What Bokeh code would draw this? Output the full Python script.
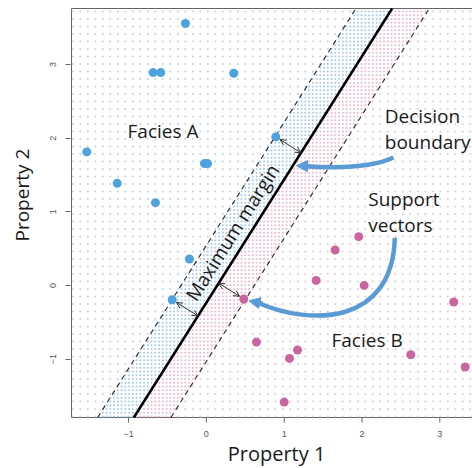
import numpy as np
from bokeh.plotting import figure
from bokeh.models import (Range1d, FixedTicker, Arrow, OpenHead, NormalHead,
                          Title, ColumnDataSource)
from bokeh.embed import file_html
from bokeh.resources import INLINE
from bokeh.core.properties import value

# ---------------- data ----------------
facies_a_x = [-0.269, -0.684, -0.586, 0.352, -1.537, -1.146, -0.654, -0.024, 0.015, 0.892, -0.217, -0.439]
facies_a_y = [3.557, 2.891, 2.891, 2.882, 1.814, 1.387, 1.125, 1.655, 1.655, 2.018, 0.360, -0.193]
facies_b_x = [1.958, 1.655, 1.411, 2.028, 0.481, 3.179, 0.644, 1.171, 1.068, 2.627, 3.326, 1.000]
facies_b_y = [0.663, 0.482, 0.069, 0.001, -0.183, -0.224, -0.768, -0.876, -0.990, -0.940, -1.107, -1.583]

boundary_slope = 1.673
boundary_intercept = -0.233
margin_upper_intercept = 0.545
margin_lower_intercept = -1.03

support_vectors_x = [0.892, -0.439, 0.481]
support_vectors_y = [2.018, -0.193, -0.183]

x_ticks = [-1, 0, 1, 2, 3]
y_ticks = [-1, 0, 1, 2, 3]

# ---------------- layout ----------------
W, H = 472, 468
PL, PT, PB = 71, 8, 417          # plot box edges in canvas pixels
X0, X1 = -1.733, 3.42            # data x at box left / right
YF, Y1 = -1.792, 3.761           # data y at box bottom / top
sx = (W - PL) / (X1 - X0)
sy = (PB - PT) / (Y1 - YF)
TXT_SHIFT = 7 / sy               # baseline correction for text glyphs

def dxp(cx):
    return X0 + (cx - PL) / sx

def dyp(cy):
    return Y1 - (cy - PT) / sy

BLUE = "#4da3de"
PINK = "#c9659f"
ARROW_BLUE = "#5b9bd5"
AXIS = "#666666"
FONT = "Open Sans"

p = figure(width=W, height=H, x_range=Range1d(dxp(PL - 1), X1), y_range=Range1d(dyp(H), dyp(PT - 1)),
           output_backend="svg", toolbar_location=None, title=None, x_axis_location=None,
           min_border_left=PL - 1, min_border_right=0, min_border_top=PT - 1, min_border_bottom=0)
p.grid.visible = False
p.outline_line_color = None
p.background_fill_color = "white"
p.border_fill_color = "white"

# y axis (ticks + labels only)
yax = p.yaxis[0]
yax.ticker = FixedTicker(ticks=y_ticks)
yax.major_label_overrides = {t: (("\u2212" + str(abs(t))) if t < 0 else str(t)) for t in y_ticks}
yax.axis_line_color = None
yax.major_tick_line_color = AXIS
yax.major_tick_out = 5
yax.major_tick_in = 0
yax.minor_tick_line_color = None
yax.major_label_text_font = "Liberation Sans"
yax.major_label_text_font_size = "9px"
yax.major_label_text_color = "#555555"
yax.major_label_standoff = 9
yax.major_label_orientation = "vertical"
yax.axis_label = "\u200b"
yax.axis_label_text_font_size = "2px"
yax.axis_label_standoff = 3
p.add_layout(Title(text="Property 2", align="left", offset=H - 241, text_font=FONT,
                   text_font_size="19px", text_font_style="normal", text_color="#1a1a1a"), "left")

# box (left, top, bottom)
p.segment(x0=[X0, X0, X0], y0=[YF, Y1, YF], x1=[X0, X1, X1], y1=[Y1, Y1, YF],
          line_color=AXIS, line_width=1)

# x axis ticks and labels drawn within the canvas
x_labels = [("\u2212" + str(abs(t))) if t < 0 else str(t) for t in x_ticks]
p.segment(x0=x_ticks, y0=[YF] * len(x_ticks), x1=x_ticks, y1=[dyp(PB + 5)] * len(x_ticks),
          line_color=AXIS, line_width=1)
p.text(x=x_ticks, y=[dyp(433)] * len(x_ticks), text=x_labels, text_font=value("Liberation Sans"),
       text_font_size="9px", text_color="#555555", text_align="center", text_baseline="middle")
p.text(x=[dxp(276)], y=[dyp(464) + 11.5 / sy], text=["Property 1"], text_font=value(FONT),
       text_font_size="20px", text_color="#1a1a1a", text_align="center", text_baseline="alphabetic")

# ---------------- background classification grid ----------------
def grid(step, ox, oy):
    gx = X0 + np.arange(ox, W - PL, step) / sx
    gy = Y1 - np.arange(oy, PB - PT, step) / sy
    xx, yy = np.meshgrid(gx, gy)
    return xx.ravel(), yy.ravel()

def split(xx, yy):
    r = yy - boundary_slope * xx
    inband = (r < margin_upper_intercept) & (r > margin_lower_intercept)
    blue = r > boundary_intercept
    return inband, blue

ox, oy = grid(7.5, 1.3, 3.0)
inb, bl = split(ox, oy)
m = ~inb
p.scatter(ox[m & bl], oy[m & bl], size=2.0, marker="circle", fill_color="#c0d1e2", line_color=None)
p.scatter(ox[m & ~bl], oy[m & ~bl], size=2.0, marker="circle", fill_color="#e0cad5", line_color=None)
gx_, gy_ = grid(3.75, 1.3, 3.0)
inb, bl = split(gx_, gy_)
p.scatter(gx_[inb & bl], gy_[inb & bl], size=2.0, marker="circle", fill_color="#a6c9e8", line_color=None)
p.scatter(gx_[inb & ~bl], gy_[inb & ~bl], size=2.0, marker="circle", fill_color="#ebb6cf", line_color=None)

# ---------------- boundary and margins (clipped to the box) ----------------
def line_x(y, b):
    return (y - b) / boundary_slope

for b, col, lw, dash in ((margin_upper_intercept, "#333333", 1.2, "5 4"),
                         (margin_lower_intercept, "#333333", 1.2, "5 4"),
                         (boundary_intercept, "black", 2.5, "solid")):
    p.line(x=[line_x(YF, b), line_x(Y1, b)], y=[YF, Y1], line_color=col, line_width=lw, line_dash=dash)

# ---------------- points ----------------
p.scatter(facies_a_x, facies_a_y, size=9, fill_color=BLUE, line_color=None)
p.scatter(facies_b_x, facies_b_y, size=9, fill_color=PINK, line_color=None)

# ---------------- margin arrows (perpendicular in screen space) ----------------
d = np.array([sx, boundary_slope * sy])
d = d / np.linalg.norm(d)
Q = np.array([(0 - X0) * sx, (boundary_intercept - YF) * sy])
for svx, svy in zip(support_vectors_x, support_vectors_y):
    P = np.array([(svx - X0) * sx, (svy - YF) * sy])
    foot = Q + np.dot(P - Q, d) * d
    u = (foot - P) / np.linalg.norm(foot - P)
    s = P + u * 5
    p.add_layout(Arrow(x_start=X0 + s[0] / sx, y_start=YF + s[1] / sy,
                       x_end=X0 + foot[0] / sx, y_end=YF + foot[1] / sy,
                       line_color="#333333", line_width=1,
                       start=OpenHead(size=6, line_color="#333333", line_width=1),
                       end=OpenHead(size=6, line_color="#333333", line_width=1)))

# ---------------- callout arrows ----------------
p.quadratic(x0=[2.405], y0=[1.738], x1=[1.235], y1=[1.623], cx=[2.045], cy=[1.561],
            line_color=ARROW_BLUE, line_width=4.5)
p.add_layout(Arrow(x_start=1.312, y_start=1.621, x_end=1.158, y_end=1.625,
                   line_color=ARROW_BLUE, line_width=4.5,
                   end=NormalHead(size=11, fill_color=ARROW_BLUE, line_color=ARROW_BLUE)))
p.bezier(x0=[2.422], y0=[0.648], x1=[0.670], y1=[-0.237],
         cx0=[2.392], cy0=[-0.543], cx1=[1.338], cy1=[-0.543],
         line_color=ARROW_BLUE, line_width=4.5)
p.add_layout(Arrow(x_start=0.723, y_start=-0.246, x_end=0.548, y_end=-0.207,
                   line_color=ARROW_BLUE, line_width=4.5,
                   end=NormalHead(size=11, fill_color=ARROW_BLUE, line_color=ARROW_BLUE)))

# ---------------- texts ----------------
txt = ColumnDataSource(dict(
    x=[-1.013, 2.293, 2.293, 2.080, 2.080, 1.608],
    y=[2.009 + TXT_SHIFT, 2.204 + TXT_SHIFT, 1.860 + TXT_SHIFT,
       1.086 + TXT_SHIFT, 0.726 + TXT_SHIFT, -0.832 + TXT_SHIFT],
    t=["Facies A", "Decision", "boundary", "Support", "vectors", "Facies B"]))
p.text(x="x", y="y", text="t", source=txt, text_font=value(FONT), text_font_size="19px",
       text_color="#1a1a1a", text_align="left", text_baseline="alphabetic")
ang = float(np.arctan(boundary_slope * sy / sx))
p.text(x=[0.336], y=[0.720], text=["Maximum margin"], angle=ang, text_font=value(FONT),
       text_font_size="19px", text_color="#1a1a1a", text_align="center", text_baseline="middle")

open("out.html", "w").write(file_html(p, INLINE))
